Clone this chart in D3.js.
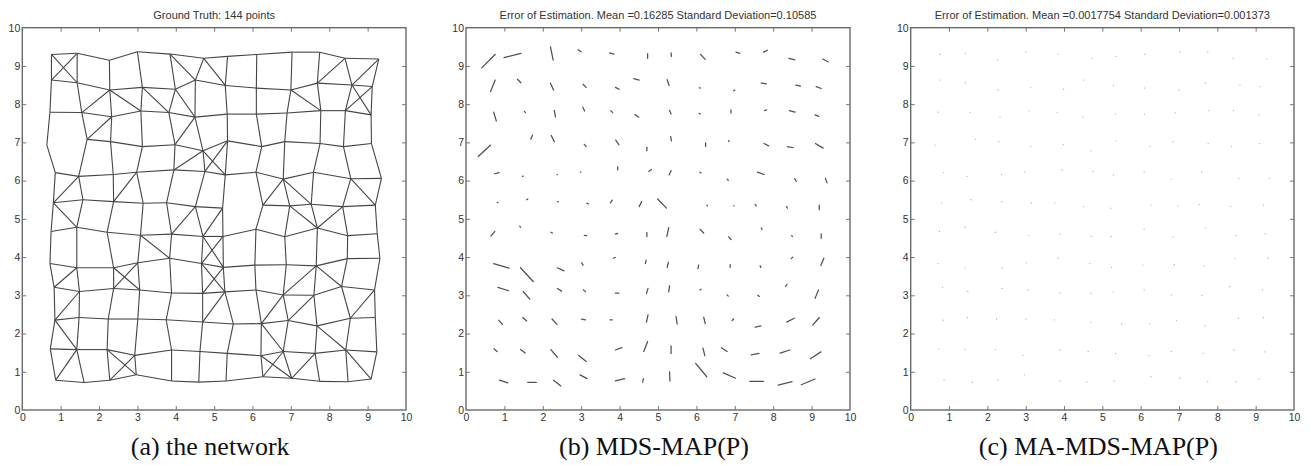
<!DOCTYPE html>
<html><head><meta charset="utf-8">
<script src="https://cdn.jsdelivr.net/npm/d3@7"></script>
<style>
html,body{margin:0;padding:0;background:#fff;}
svg{display:block;}
.tick text{font-family:"Liberation Sans",Arial,Helvetica,sans-serif;font-size:10.5px;fill:#333;}
</style></head>
<body>
<svg id="chart" width="1311" height="465"></svg>
<script>
// ---------------- DATA ----------------
const tickValues = [0,1,2,3,4,5,6,7,8,9,10];
const titles = [
  "Ground Truth: 144 points",
  "Error of Estimation. Mean =0.16285 Standard Deviation=0.10585",
  "Error of Estimation. Mean =0.0017754 Standard Deviation=0.001373"
];
const captions = ["(a) the network", "(b) MDS-MAP(P)", "(c) MA-MDS-MAP(P)"];

// node positions, rows from bottom (row 0) to top (row 11), 12 columns each
const nodeX = [
 [0.87,1.61,2.28,2.97,3.89,4.60,5.31,6.27,7.02,7.75,8.49,9.09],
 [0.73,1.42,2.21,2.93,3.89,4.63,5.34,6.22,6.80,7.63,8.43,9.24],
 [0.85,1.48,2.24,3.01,3.75,4.70,5.50,6.23,6.93,7.68,8.55,9.20],
 [0.83,1.49,2.38,3.06,3.89,4.70,5.28,6.09,6.80,7.60,8.32,9.18],
 [0.72,1.42,2.38,3.01,3.84,4.67,5.24,6.06,6.88,7.66,8.47,9.32],
 [0.75,1.42,2.21,3.08,3.89,4.71,5.23,6.09,6.84,7.69,8.48,9.25],
 [0.81,1.58,2.38,3.15,3.76,4.51,5.22,6.27,6.97,7.53,8.35,9.20],
 [0.86,1.47,2.37,2.98,3.95,4.76,5.29,6.09,6.80,7.59,8.56,9.36],
 [0.64,1.69,2.30,3.13,3.98,4.71,5.35,6.24,6.84,7.76,8.37,9.10],
 [0.72,1.55,2.33,3.09,3.82,4.50,5.34,6.10,6.90,7.78,8.42,9.09],
 [0.76,1.43,2.28,3.13,3.99,4.51,5.29,6.10,7.00,7.69,8.59,9.12],
 [0.76,1.43,2.27,3.00,3.85,4.73,5.35,6.11,7.03,7.75,8.41,9.29]
];
const nodeY = [
 [0.78,0.72,0.78,0.92,0.76,0.73,0.76,0.87,0.83,0.75,0.74,0.81],
 [1.60,1.58,1.58,1.43,1.57,1.53,1.48,1.42,1.53,1.48,1.57,1.52],
 [2.35,2.42,2.38,2.38,2.36,2.30,2.25,2.26,2.34,2.20,2.40,2.42],
 [3.21,3.10,3.18,3.14,3.06,3.05,3.09,3.14,3.01,3.00,3.23,3.14],
 [3.83,3.72,3.72,3.85,3.97,3.83,3.73,3.79,3.80,3.77,3.96,3.97],
 [4.67,4.78,4.65,4.57,4.60,4.54,4.54,4.73,4.53,4.76,4.56,4.61],
 [5.42,5.50,5.45,5.41,5.42,5.32,5.28,5.36,5.34,5.38,5.32,5.36],
 [6.21,6.11,6.16,6.22,6.28,6.24,6.15,6.22,6.04,6.22,6.05,6.06],
 [6.93,7.08,7.02,6.89,6.94,6.78,7.04,6.89,7.02,6.97,6.89,6.97],
 [7.79,7.78,7.67,7.82,7.78,7.66,7.74,7.74,7.77,7.83,7.83,7.72],
 [8.63,8.56,8.37,8.44,8.39,8.63,8.49,8.42,8.37,8.55,8.50,8.46],
 [9.30,9.33,9.15,9.37,9.31,9.20,9.25,9.30,9.36,9.36,9.20,9.18]
];
// grid-neighbour links that are absent: [row1,col1,row2,col2]
const missingLinks = [[8,0,8,1],[6,6,6,7]];
// extra diagonal links: [row1,col1,row2,col2]
const diagonalLinks = [
 [11,0,10,1],[11,1,10,0],[10,2,9,1],[10,2,9,3],[9,2,8,1],[10,3,9,4],[11,4,10,5],[11,5,10,6],
 [10,4,9,5],[9,5,8,4],[7,4,8,5],[8,5,7,6],[8,6,7,5],[7,1,6,0],[6,0,5,1],[6,2,7,3],[6,5,5,4],
 [6,6,5,5],[10,8,9,9],[11,10,10,9],[11,11,10,10],[10,10,9,11],[10,11,9,10],[7,8,6,7],[7,8,6,9],
 [7,10,6,11],[6,8,5,9],[6,10,5,9],[5,3,4,4],[5,5,4,6],[5,6,4,5],[4,5,3,6],[4,6,3,5],[3,6,2,5],
 [4,1,3,0],[4,2,3,3],[4,3,3,2],[3,1,2,0],[2,0,1,1],[1,1,0,0],[1,2,0,3],[1,3,0,2],[2,7,3,8],
 [3,8,4,9],[4,9,3,10],[3,11,2,10],[3,9,2,8],[2,9,1,10],[1,10,0,11],[1,9,0,8],[2,7,1,8],
 [1,7,0,8],[1,8,0,7]
];
// MDS-MAP(P) estimation error (estimate - truth), rows bottom to top
const errDX = [
 [0.22,0.22,0.19,0.18,0.24,0.02,-0.01,-0.29,-0.32,-0.36,-0.36,-0.36],
 [0.08,0.12,0.17,0.20,0.17,0.10,0.00,-0.05,-0.15,-0.20,-0.25,-0.27],
 [0.10,0.10,0.13,0.10,0.06,0.04,-0.03,-0.04,0.04,-0.15,-0.20,-0.17],
 [0.28,0.17,0.11,0.05,0.09,0.04,0.02,0.03,0.03,0.04,0.04,-0.09],
 [0.40,0.33,0.17,0.04,0.05,0.02,0.03,-0.02,0.00,0.02,0.04,-0.08],
 [-0.10,-0.02,0.04,0.06,0.06,0.00,0.05,0.10,0.06,0.02,0.02,0.00],
 [0.02,0.03,0.02,0.04,0.05,0.06,-0.23,0.02,0.01,0.03,0.02,0.00],
 [-0.12,0.02,0.01,0.01,0.00,0.07,0.05,0.03,0.03,0.17,0.04,0.04],
 [-0.32,0.04,-0.08,-0.05,-0.08,0.00,-0.02,0.00,0.01,0.12,0.15,0.20],
 [0.07,-0.03,-0.03,-0.05,-0.05,-0.10,-0.04,-0.03,0.00,0.05,0.15,0.10],
 [-0.12,-0.09,-0.08,-0.08,-0.10,-0.14,-0.05,-0.02,-0.03,0.13,0.12,0.13],
 [-0.35,-0.44,-0.07,-0.08,-0.11,0.00,-0.01,0.12,0.10,0.10,0.15,0.14]
];
const errDY = [
 [-0.07,0.00,-0.15,-0.10,0.06,0.09,0.24,0.35,0.14,0.00,-0.09,-0.15],
 [-0.07,-0.09,-0.20,-0.16,0.06,0.26,0.19,0.20,0.10,-0.04,-0.08,-0.18],
 [-0.11,-0.09,-0.14,-0.02,0.00,0.19,0.19,0.17,0.04,-0.03,-0.10,-0.20],
 [-0.09,-0.20,-0.07,-0.04,0.00,0.13,0.16,0.02,-0.03,-0.03,0.06,-0.22],
 [-0.12,-0.36,-0.08,-0.06,0.02,0.09,0.13,-0.09,-0.07,-0.04,0.04,-0.19],
 [-0.12,0.03,-0.02,-0.01,0.02,0.10,0.23,-0.10,-0.07,-0.04,-0.02,-0.12],
 [0.01,0.02,0.00,-0.02,0.07,0.13,0.24,-0.02,0.00,-0.04,-0.04,-0.12],
 [-0.03,0.01,0.00,0.00,0.08,0.05,0.11,-0.02,-0.03,-0.06,-0.07,-0.12],
 [-0.30,0.11,0.16,0.06,0.12,0.09,0.11,0.10,0.03,-0.06,-0.03,-0.12],
 [-0.23,0.03,0.17,0.10,0.05,0.07,0.10,0.02,0.08,0.02,-0.04,-0.04],
 [-0.30,0.09,0.18,0.08,0.05,0.04,0.15,0.01,-0.02,-0.02,-0.03,-0.05],
 [-0.35,-0.11,0.35,0.05,0.03,0.12,0.09,-0.13,-0.03,0.05,-0.04,-0.07]
];

// ---------------- LAYOUT ----------------
const svg = d3.select("#chart");
svg.append("rect").attr("width",1311).attr("height",465).attr("fill","#fff");
const panelX = [[22.3,406],[466,850],[910.7,1294]];
const yRange = [410,27.7];

const nodes = [];
nodeX.forEach((row,r)=>row.forEach((x,c)=>nodes.push({r,c,x,y:nodeY[r][c],dx:errDX[r][c],dy:errDY[r][c]})));
const nodeAt = (r,c)=>nodes[r*12+c];
const missKey = new Set(missingLinks.map(m=>m.join(",")));
const links = [];
for (let r=0;r<12;r++) for (let c=0;c<12;c++){
  if (c<11 && !missKey.has([r,c,r,c+1].join(","))) links.push([nodeAt(r,c),nodeAt(r,c+1)]);
  if (r<11 && !missKey.has([r,c,r+1,c].join(","))) links.push([nodeAt(r,c),nodeAt(r+1,c)]);
}
diagonalLinks.forEach(d=>links.push([nodeAt(d[0],d[1]),nodeAt(d[2],d[3])]));

panelX.forEach((px,i)=>{
  const x = d3.scaleLinear().domain([0,10]).range(px);
  const y = d3.scaleLinear().domain([0,10]).range(yRange);
  const g = svg.append("g");

  // marks
  if (i===0){
    g.append("g").selectAll("line").data(links).join("line")
      .attr("x1",d=>x(d[0].x)).attr("y1",d=>y(d[0].y))
      .attr("x2",d=>x(d[1].x)).attr("y2",d=>y(d[1].y))
      .attr("stroke","#454545").attr("stroke-width",1.1);
  } else if (i===1){
    g.append("g").selectAll("line").data(nodes).join("line")
      .attr("x1",d=>x(d.x)).attr("y1",d=>y(d.y))
      .attr("x2",d=>x(d.x+d.dx)).attr("y2",d=>y(d.y+d.dy))
      .attr("stroke","#505050").attr("stroke-width",1.25).attr("stroke-linecap","round");
  } else {
    g.append("g").selectAll("circle").data(nodes).join("circle")
      .attr("cx",d=>x(d.x)).attr("cy",d=>y(d.y)).attr("r",0.65)
      .attr("fill","#b0b0b0");
  }

  // axes (MATLAB style: ticks inward on all four sides)
  const tickLen = 4;
  const ax = (axis)=>axis.tickValues(tickValues).tickSizeInner(-tickLen).tickSizeOuter(0);
  const gb = g.append("g").attr("transform",`translate(0,${yRange[0]})`)
    .call(ax(d3.axisBottom(x)).tickPadding(4).tickFormat(d3.format("d")));
  const gt = g.append("g").attr("transform",`translate(0,${yRange[1]})`)
    .call(ax(d3.axisTop(x)).tickFormat(""));
  const gl = g.append("g").attr("transform",`translate(${px[0]},0)`)
    .call(ax(d3.axisLeft(y)).tickPadding(2).tickFormat(d3.format("d")));
  const gr = g.append("g").attr("transform",`translate(${px[1]},0)`)
    .call(ax(d3.axisRight(y)).tickFormat(""));
  [gb,gt,gl,gr].forEach(a=>{
    a.select(".domain").remove();
    a.selectAll(".tick line").attr("stroke","#555").attr("stroke-width",0.8);
    a.selectAll(".tick").filter(d=>d===0||d===10).select("line").remove();
  });

  g.append("rect").attr("x",px[0]).attr("y",yRange[1])
    .attr("width",px[1]-px[0]).attr("height",yRange[0]-yRange[1])
    .attr("fill","none").attr("stroke","#6a6a6a").attr("stroke-width",1.4);

  // title
  g.append("text").attr("x",(px[0]+px[1])/2).attr("y",19).attr("text-anchor","middle")
    .attr("font-family","Liberation Sans, Arial, Helvetica, sans-serif").attr("font-size",11)
    .attr("fill","#333").text(titles[i]);
  // caption
  g.append("text").attr("x",(px[0]+px[1])/2-4).attr("y",455).attr("text-anchor","middle")
    .attr("font-family","Liberation Serif, Times New Roman, serif").attr("font-size",26)
    .attr("fill","#111").text(captions[i]);
});
</script>
</body></html>
